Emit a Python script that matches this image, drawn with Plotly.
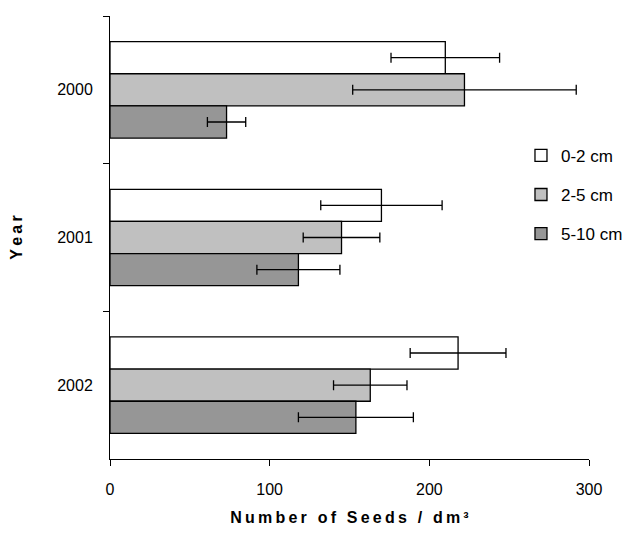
import plotly.graph_objects as go

years = ["2000", "2001", "2002"]
depths = ["0-2 cm", "2-5 cm", "5-10 cm"]
seeds_0_2 = [210, 170, 218]
seeds_2_5 = [222, 145, 163]
seeds_5_10 = [73, 118, 154]
err_0_2 = [34, 38, 30]
err_2_5 = [70, 24, 23]
err_5_10 = [12, 26, 36]
colors = ["#FFFFFF", "#C0C0C0", "#969696"]
x_ticks = [0, 100, 200, 300]

FONT = "Liberation Sans, Arial, sans-serif"
THIN = "\u2009"


def spaced(s):
    return THIN.join(list(s))


fig = go.Figure()
series = [seeds_0_2, seeds_2_5, seeds_5_10]
errs = [err_0_2, err_2_5, err_5_10]
for i, (name, vals, er, col) in enumerate(zip(depths, series, errs, colors)):
    fig.add_trace(go.Bar(
        y=years, x=vals, name=name, orientation="h",
        marker=dict(color=col, line=dict(color="black", width=1.3)),
        error_x=dict(type="data", array=er, visible=True, color="black",
                     thickness=1.3, width=5),
        legendgroup=f"g{i}",
    ))

# page body adds an 8px offset, so the figure is sized to fit the window
fig.update_layout(
    width=628, height=542,
    paper_bgcolor="white", plot_bgcolor="white",
    margin=dict(l=102, r=47, t=8, b=91, autoexpand=False),
    barmode="group", bargap=0.347, bargroupgap=0,
    font=dict(family=FONT, size=16, color="black"),
    showlegend=True,
    legend=dict(
        x=0.858, y=0.725, xanchor="left", yanchor="top",
        traceorder="grouped", tracegroupgap=14,
        font=dict(size=17, family=FONT),
        bgcolor="rgba(0,0,0,0)", itemwidth=30,
    ),
    xaxis=dict(
        range=[0, 300], tickvals=x_ticks, showgrid=False, zeroline=False,
        showline=True, linecolor="black", linewidth=1,
        ticks="outside", ticklen=6, tickcolor="black",
        ticklabelstandoff=10, automargin=False,
        title=dict(text="<b>" + spaced("Number of Seeds / dm³") + "</b>", standoff=14,
                   font=dict(size=16, family=FONT)),
    ),
    yaxis=dict(
        type="category", autorange="reversed", showgrid=False,
        showline=True, linecolor="black", linewidth=1,
        ticks="outside", ticklen=6, tickcolor="black", tickson="boundaries",
        ticklabelstandoff=13, automargin=False,
        title=dict(text="<b>" + spaced("Year") + "</b>", standoff=34,
                   font=dict(size=16, family=FONT)),
    ),
)

fig.write_html("out.html")
